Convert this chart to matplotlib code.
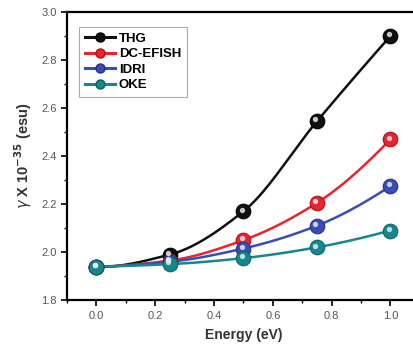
import numpy as np
import matplotlib
matplotlib.use("Agg")
import matplotlib.pyplot as plt
from matplotlib import transforms

plt.rcParams['font.family'] = ['Liberation Sans', 'DejaVu Sans']

energy = [0.0, 0.25, 0.5, 0.75, 1.0]
thg = [1.94, 1.99, 2.17, 2.545, 2.90]
dc_efish = [1.94, 1.965, 2.05, 2.205, 2.47]
idri = [1.94, 1.96, 2.015, 2.11, 2.275]
oke = [1.94, 1.95, 1.975, 2.02, 2.09]
series_names = ["THG", "DC-EFISH", "IDRI", "OKE"]
series_vals = [thg, dc_efish, idri, oke]
colors = ["#111111", "#e8242c", "#3b4cb3", "#16878a"]
edges = ["#000000", "#b01018", "#27338a", "#0d6366"]


def pchip(x, y, n=200):
    x = np.asarray(x, float); y = np.asarray(y, float)
    h = np.diff(x); dl = np.diff(y) / h
    k = len(x); d = np.zeros(k)
    for i in range(1, k - 1):
        if dl[i - 1] * dl[i] > 0:
            w1 = 2 * h[i] + h[i - 1]; w2 = h[i] + 2 * h[i - 1]
            d[i] = (w1 + w2) / (w1 / dl[i - 1] + w2 / dl[i])
    d[0] = ((2 * h[0] + h[1]) * dl[0] - h[0] * dl[1]) / (h[0] + h[1])
    d[-1] = ((2 * h[-1] + h[-2]) * dl[-1] - h[-1] * dl[-2]) / (h[-1] + h[-2])
    xs = np.linspace(x[0], x[-1], n); ys = np.empty_like(xs)
    for j, xv in enumerate(xs):
        i = min(np.searchsorted(x, xv, side='right') - 1, k - 2)
        t = (xv - x[i]) / h[i]
        h00 = 2 * t ** 3 - 3 * t ** 2 + 1; h10 = t ** 3 - 2 * t ** 2 + t
        h01 = -2 * t ** 3 + 3 * t ** 2; h11 = t ** 3 - t ** 2
        ys[j] = h00 * y[i] + h10 * h[i] * d[i] + h01 * y[i + 1] + h11 * h[i] * d[i + 1]
    return xs, ys


fig = plt.figure(figsize=(4.14, 3.45), dpi=100)
ax = fig.add_axes([0.162, 0.13, 0.852, 0.835])

handles = []
for name, vals, col, ec in zip(series_names, series_vals, colors, edges):
    xs, ys = pchip(energy, vals)
    ax.plot(xs, ys, color=col, lw=1.8, zorder=2)
    ax.plot(energy, vals, 'o', ms=10.5, mfc=col, mec=ec, mew=0.8, zorder=3)
    hl = transforms.offset_copy(ax.transData, fig=fig, x=-1.3, y=1.3, units='points')
    ax.plot(energy, vals, 'o', ms=3.8, mfc='#e4ecf4', mec='none', alpha=0.85,
            transform=hl, zorder=4)
    h, = ax.plot([], [], '-o', color=col, lw=2.2, ms=6.5, mfc=col, mec=ec, label=name)
    handles.append(h)

ax.set_xlim(-0.1, 1.1)
ax.set_ylim(1.8, 3.0)
ax.set_xticks(np.arange(0, 1.01, 0.2))
ax.set_xticks(np.arange(-0.1, 1.11, 0.1), minor=True)
ax.set_yticks(np.arange(1.8, 3.01, 0.2))
ax.set_yticks(np.arange(1.9, 3.0, 0.2), minor=True)
ax.xaxis.set_major_formatter(matplotlib.ticker.FormatStrFormatter('%.1f'))
ax.yaxis.set_major_formatter(matplotlib.ticker.FormatStrFormatter('%.1f'))
ax.tick_params(which='major', direction='out', length=4, width=1.2, labelsize=8,
               labelcolor='#555555', top=False, right=False)
ax.tick_params(which='minor', direction='out', length=2.5, width=1.0, top=False, right=False)
for s in ax.spines.values():
    s.set_linewidth(1.6)

ax.set_xlabel("Energy (eV)", fontsize=10, fontweight='bold', color='#333333', labelpad=5)
ax.set_ylabel(r"$\gamma$ X 10$^{\mathbf{-35}}$ (esu)", fontsize=10.5, fontweight='bold',
              color='#333333', labelpad=5)

leg = ax.legend(handles=handles, loc='upper left', bbox_to_anchor=(0.035, 0.947),
                frameon=True, fancybox=False, edgecolor='#999999',
                handlelength=2.3, handletextpad=0.3, labelspacing=0.25,
                borderpad=0.4, borderaxespad=0.0, prop={'weight': 'bold', 'size': 9.5})
leg.get_frame().set_linewidth(0.8)

fig.savefig("out.png", dpi=100)
